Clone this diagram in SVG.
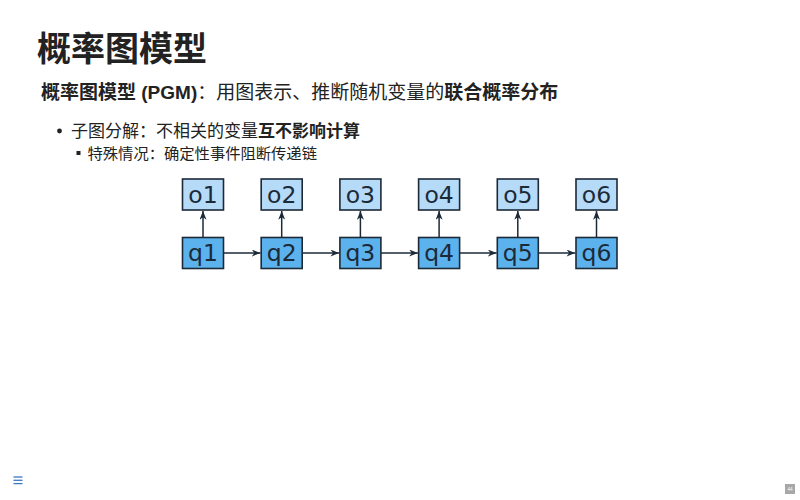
<svg xmlns="http://www.w3.org/2000/svg" width="800" height="500" viewBox="0 0 800 500">
<style>
.t{font-family:"Liberation Sans","Noto Sans CJK SC",sans-serif;fill:#222}
.b{font-weight:bold}
.o{fill:#b5dbf8;stroke:#1c2a38;stroke-width:1.6}
.q{fill:#5cb2ec;stroke:#1c2a38;stroke-width:1.6}
.lbl{font-family:"DejaVu Sans",sans-serif;font-size:23.5px;fill:#1c2a38;text-anchor:middle}
.e{stroke:#1c2a38;stroke-width:1.5;fill:none;marker-end:url(#ah)}
</style>
<defs>
<marker id="ah" viewBox="0 0 10 8" refX="10" refY="4" markerWidth="9" markerHeight="7" markerUnits="userSpaceOnUse" orient="auto">
<path d="M0,0 L10,4 L0,8 L3,4 Z" fill="#1c2a38"/>
</marker>
</defs>
<rect width="800" height="500" fill="#fff"/>
<text class="t b" x="37" y="61" font-size="34">概率图模型</text>
<text class="t" x="41" y="99" font-size="19"><tspan class="b">概率图模型 (PGM)</tspan>：用图表示、推断随机变量的<tspan class="b">联合概率分布</tspan></text>
<circle cx="59.5" cy="131" r="2.4" fill="#222"/>
<text class="t" x="71" y="137" font-size="17">子图分解：不相关的变量<tspan class="b">互不影响计算</tspan></text>
<rect x="76.5" y="151" width="4" height="4" fill="#222"/>
<text class="t" x="87.5" y="159" font-size="15.3">特殊情况：确定性事件阻断传递链</text>
<g id="connectors">
<line class="e" x1="203" y1="237.5" x2="203" y2="211"/>
<line class="e" x1="281.7" y1="237.5" x2="281.7" y2="211"/>
<line class="e" x1="360.4" y1="237.5" x2="360.4" y2="211"/>
<line class="e" x1="439.1" y1="237.5" x2="439.1" y2="211"/>
<line class="e" x1="517.8" y1="237.5" x2="517.8" y2="211"/>
<line class="e" x1="596.5" y1="237.5" x2="596.5" y2="211"/>
<line class="e" x1="223.5" y1="253" x2="260.5" y2="253"/>
<line class="e" x1="302.2" y1="253" x2="339.2" y2="253"/>
<line class="e" x1="380.9" y1="253" x2="417.9" y2="253"/>
<line class="e" x1="459.6" y1="253" x2="496.6" y2="253"/>
<line class="e" x1="538.3" y1="253" x2="575.3" y2="253"/>
</g>
<g id="o1"><rect class="o" x="182.5" y="179" width="41" height="31"/><text class="lbl" x="203" y="203">o1</text></g>
<g id="o2"><rect class="o" x="261.2" y="179" width="41" height="31"/><text class="lbl" x="281.7" y="203">o2</text></g>
<g id="o3"><rect class="o" x="339.9" y="179" width="41" height="31"/><text class="lbl" x="360.4" y="203">o3</text></g>
<g id="o4"><rect class="o" x="418.6" y="179" width="41" height="31"/><text class="lbl" x="439.1" y="203">o4</text></g>
<g id="o5"><rect class="o" x="497.3" y="179" width="41" height="31"/><text class="lbl" x="517.8" y="203">o5</text></g>
<g id="o6"><rect class="o" x="576" y="179" width="41" height="31"/><text class="lbl" x="596.5" y="203">o6</text></g>
<g id="q1"><rect class="q" x="182.5" y="237.5" width="41" height="31"/><text class="lbl" x="203" y="261">q1</text></g>
<g id="q2"><rect class="q" x="261.2" y="237.5" width="41" height="31"/><text class="lbl" x="281.7" y="261">q2</text></g>
<g id="q3"><rect class="q" x="339.9" y="237.5" width="41" height="31"/><text class="lbl" x="360.4" y="261">q3</text></g>
<g id="q4"><rect class="q" x="418.6" y="237.5" width="41" height="31"/><text class="lbl" x="439.1" y="261">q4</text></g>
<g id="q5"><rect class="q" x="497.3" y="237.5" width="41" height="31"/><text class="lbl" x="517.8" y="261">q5</text></g>
<g id="q6"><rect class="q" x="576" y="237.5" width="41" height="31"/><text class="lbl" x="596.5" y="261">q6</text></g>
<g id="menu" stroke="#3a78c8" stroke-width="1.3">
<line x1="13.5" y1="477" x2="22.5" y2="477"/>
<line x1="13.5" y1="480.3" x2="22.5" y2="480.3"/>
<line x1="13.5" y1="483.6" x2="22.5" y2="483.6"/>
</g>
<g id="page">
<rect x="785" y="484" width="10" height="10" fill="#a8a8a8"/>
<text x="790" y="490.5" font-family="Liberation Sans,sans-serif" font-size="4.5" fill="#fff" text-anchor="middle">44</text>
</g>
</svg>
